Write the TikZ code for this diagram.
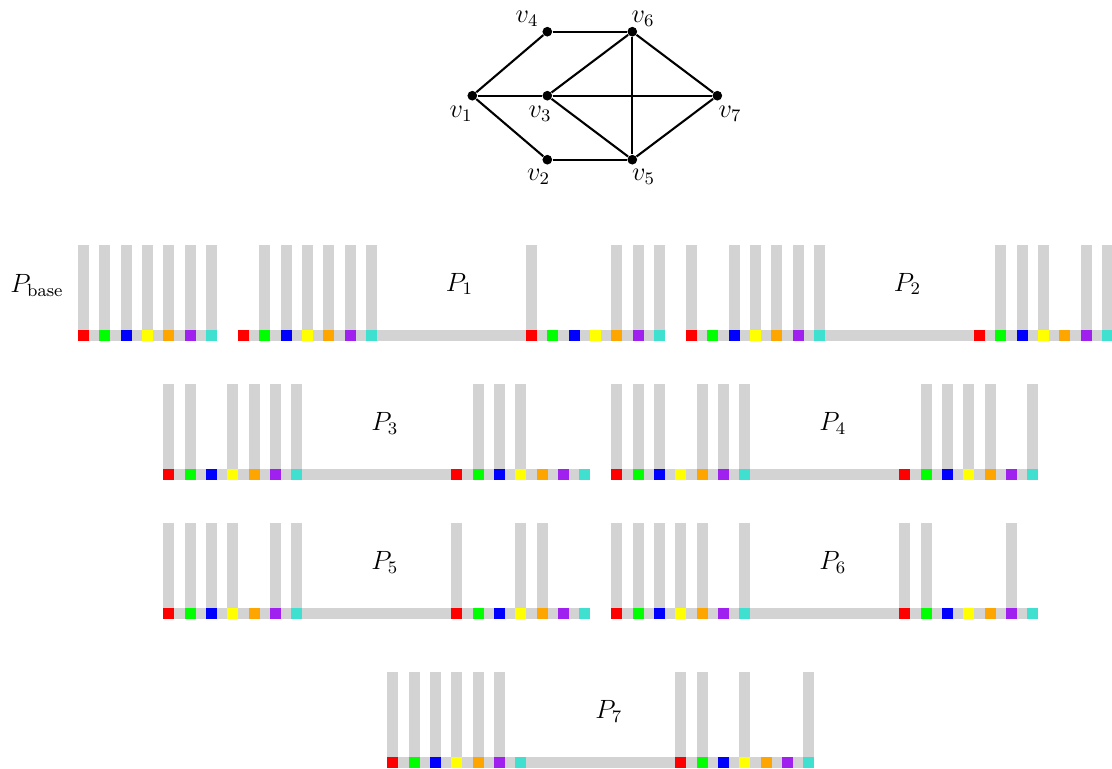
\documentclass[tikz,border=0pt]{standalone}
\definecolor{band}{RGB}{211,211,211}
\definecolor{c1}{RGB}{255,0,0}
\definecolor{c2}{RGB}{0,255,0}
\definecolor{c3}{RGB}{0,0,255}
\definecolor{c4}{RGB}{255,255,0}
\definecolor{c5}{RGB}{255,165,0}
\definecolor{c6}{RGB}{160,32,240}
\definecolor{c7}{RGB}{64,224,208}
% one gadget: gray band, gray posts above the listed slots, seven coloured squares
\newcommand\gadget[3]{%
  \fill[band] ({#1},{#2}) rectangle ++(139,11);
  \foreach \j in {#3} {\fill[band] ({#1+(\j-1)*21.333},{#2-85}) rectangle ++(11,85);}
  \foreach \j in {1,...,7} {\fill[c\j] ({#1+(\j-1)*21.333},{#2}) rectangle ++(11,11);}
}
% one path P_i: left gadget, joining band, right gadget
\newcommand\prow[4]{%
  \fill[band] ({#1},{#2}) rectangle ++(427,11);
  \gadget{#1}{#2}{#3}
  \gadget{#1+288}{#2}{#4}
}
\begin{document}
\begin{tikzpicture}[x=0.4545pt,y=-0.4545pt,
  dot/.style={circle,fill=black,inner sep=0pt,minimum size=4.4pt},
  edge/.style={line width=0.95pt},
  lbl/.style={inner sep=0pt,font=\large}]
\useasboundingbox (0,0) rectangle (1112,769);

% graph
\node[dot] (v1) at (472.3,95.7) {};
\node[dot] (v2) at (547.3,159.7) {};
\node[dot] (v3) at (547.3,95.7) {};
\node[dot] (v4) at (547.3,31.7) {};
\node[dot] (v5) at (632.3,159.7) {};
\node[dot] (v6) at (632.3,31.7) {};
\node[dot] (v7) at (717.3,95.7) {};
\foreach \a/\b in {v1/v4,v1/v3,v1/v2,v4/v6,v3/v6,v3/v7,v3/v5,v6/v5,v6/v7,v2/v5,v5/v7}
  \draw[edge] (\a) -- (\b);
\node[lbl] (l1) at (461,114) {$v_1$};
\node[lbl] (l2) at (538.5,177) {$v_2$};
\node[lbl] (l3) at (540,114) {$v_3$};
\node[lbl] (l4) at (527,19) {$v_4$};
\node[lbl] (l5) at (643.5,177) {$v_5$};
\node[lbl] (l6) at (643,19) {$v_6$};
\node[lbl] (l7) at (730,114) {$v_7$};

% gadget rows
\gadget{78}{330}{1,...,7}
\node[lbl] (pb) at (37,285) {$P_{\mathrm{base}}$};

\prow{238}{330}{2,3,4,5,6,7}{1,5,6,7}
\node[lbl] (p1) at (459.5,284) {$P_1$};
\prow{686}{330}{1,3,4,5,6,7}{2,3,4,6,7}
\node[lbl] (p2) at (907.5,284) {$P_2$};

\prow{163.3}{469}{1,2,4,5,6,7}{2,3,4}
\node[lbl] (p3) at (384.8,423) {$P_3$};
\prow{611.3}{469}{1,2,3,5,6,7}{2,3,4,5,7}
\node[lbl] (p4) at (832.8,423) {$P_4$};

\prow{163.3}{608}{1,2,3,4,6,7}{1,4,5}
\node[lbl] (p5) at (384.8,562) {$P_5$};
\prow{611.3}{608}{1,2,3,4,5,7}{1,2,6}
\node[lbl] (p6) at (832.8,562) {$P_6$};

\prow{387.3}{757}{1,2,3,4,5,6}{1,2,4,7}
\node[lbl] (p7) at (608.8,711) {$P_7$};
\end{tikzpicture}
\end{document}
